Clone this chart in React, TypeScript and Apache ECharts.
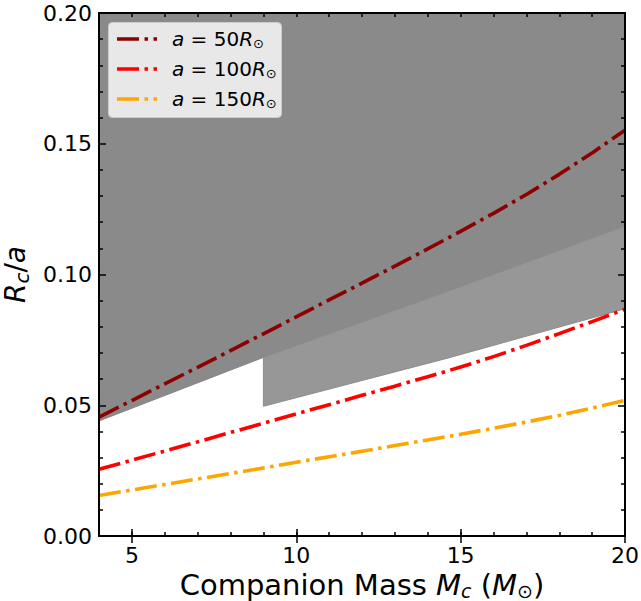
import React, { useEffect, useRef } from "react";
import * as echarts from "echarts";

// Companion mass grid (M_sun) and the R_c / a curves for three separations
const massGrid = [4, 5, 6, 7, 8, 9, 10, 11, 12, 13, 14, 15, 16, 17, 18, 19, 20];
const rcA50 = [0.0455, 0.0518, 0.0582, 0.0645, 0.0709, 0.0773, 0.0838, 0.0903, 0.0967, 0.1032, 0.1098, 0.1165, 0.1234, 0.1306, 0.1383, 0.1465, 0.1552];
const rcA100 = [0.0255, 0.029, 0.0325, 0.036, 0.0396, 0.0431, 0.0467, 0.0502, 0.0538, 0.0573, 0.0609, 0.0646, 0.0686, 0.0729, 0.0774, 0.082, 0.0867];
const rcA150 = [0.0155, 0.0176, 0.0197, 0.0218, 0.0239, 0.026, 0.0282, 0.0303, 0.0324, 0.0346, 0.0367, 0.0389, 0.0412, 0.0436, 0.0461, 0.0489, 0.0519];
const separations = ["50", "100", "150"];
const curveColors = ["#8b0000", "#ff0000", "#ffa500"];

// Excluded regions: upper band edge across all masses, lower edge of the second band (M >= 9)
const upperEdgeMass = [4, 9, 14.6, 20];
const upperEdgeRatio = [0.044, 0.0683, 0.0935, 0.1185];
const lowerEdgeMass = [9, 14.6, 20];
const lowerEdgeRatio = [0.0496, 0.068, 0.0869];

const xMin = 4;
const xMax = 20;
const yMin = 0;
const yMax = 0.2;
const xMajorTicks = [5, 10, 15, 20];

const FONT = "DejaVu Sans";
const DASH_DOT = [22, 5.5, 3.5, 5.5];
const CURVE_WIDTH = 3.6;

function polygonSeries(points: number[][], fill: string, stroke: string, z: number) {
  return {
    type: "custom",
    coordinateSystem: "cartesian2d",
    xAxisIndex: 0,
    yAxisIndex: 0,
    data: points,
    encode: { x: 0, y: 1 },
    clip: true,
    silent: true,
    z,
    renderItem: (params: any, api: any) => {
      if (params.dataIndex !== 0) return null;
      const pts = points.map((p) => api.coord(p));
      return {
        type: "polygon",
        shape: { points: pts },
        style: { fill, stroke, lineWidth: 1 },
      };
    },
  };
}

function buildOption() {
  const upperEdge = upperEdgeMass.map((m, i) => [m, upperEdgeRatio[i]]);
  const darkRegion = [...upperEdge, [xMax, yMax], [xMin, yMax]];
  const lightRegion = [
    ...lowerEdgeMass.map((m, i) => [m, lowerEdgeRatio[i]]),
    ...upperEdge.filter((p) => p[0] >= lowerEdgeMass[0]).reverse(),
  ];

  const curves = [rcA50, rcA100, rcA150].map((arr, k) => ({
    type: "line",
    name: `a = ${separations[k]}R⊙`,
    data: massGrid.map((m, i) => [m, arr[i]]),
    showSymbol: false,
    symbol: "none",
    clip: true,
    z: 5,
    lineStyle: { color: curveColors[k], width: CURVE_WIDTH, type: DASH_DOT, cap: "butt", join: "round" },
  }));

  const baseX = {
    type: "value",
    min: xMin,
    max: xMax,
    z: 10,
    splitLine: { show: false },
  };
  const tickLine = { lineStyle: { color: "#000", width: 1.5 } };

  const xAxis = [
    {
      ...baseX,
      position: "bottom",
      interval: 1,
      axisLine: { show: true, onZero: false, lineStyle: { color: "#000", width: 2 } },
      axisTick: { show: true, inside: true, length: 4, ...tickLine },
      axisLabel: {
        show: true,
        customValues: xMajorTicks,
        margin: 8,
        fontSize: 22,
        fontFamily: FONT,
        color: "#000",
      },
      name: "Companion Mass {it|M}{subIt|c} ({it|M}{sub|⊙})",
      nameLocation: "middle",
      nameGap: 22,
      nameTextStyle: {
        fontSize: 29,
        fontFamily: FONT,
        color: "#000",
        rich: {
          it: { fontSize: 29, fontFamily: FONT, fontStyle: "italic", color: "#000" },
          subIt: { fontSize: 19, fontFamily: FONT, fontStyle: "italic", color: "#000", padding: [11, 0, 0, 0] },
          sub: { fontSize: 19, fontFamily: FONT, color: "#000", padding: [11, 0, 0, 0] },
        },
      },
    },
    {
      ...baseX,
      position: "bottom",
      axisLine: { show: false },
      axisTick: { show: true, inside: true, length: 7, customValues: xMajorTicks, ...tickLine },
      axisLabel: { show: false },
    },
    {
      ...baseX,
      position: "top",
      interval: 1,
      axisLine: { show: true, onZero: false, lineStyle: { color: "#000", width: 2 } },
      axisTick: { show: true, inside: true, length: 4, ...tickLine },
      axisLabel: { show: false },
    },
    {
      ...baseX,
      position: "top",
      axisLine: { show: false },
      axisTick: { show: true, inside: true, length: 7, customValues: xMajorTicks, ...tickLine },
      axisLabel: { show: false },
    },
  ];

  const baseY = {
    type: "value",
    min: yMin,
    max: yMax,
    interval: 0.05,
    z: 10,
    splitLine: { show: false },
    axisLine: { show: true, onZero: false, lineStyle: { color: "#000", width: 2 } },
    axisTick: { show: true, inside: true, length: 7, ...tickLine },
    minorTick: { show: true, splitNumber: 5, length: 4, lineStyle: { color: "#000", width: 1.5 } },
  };

  const yAxis = [
    {
      ...baseY,
      position: "left",
      axisLabel: {
        show: true,
        margin: 7,
        fontSize: 22,
        fontFamily: FONT,
        color: "#000",
        formatter: (v: number) => v.toFixed(2),
      },
      name: "{it|R}{subIt|c}/{it|a}",
      nameLocation: "middle",
      nameRotate: 90,
      nameGap: 54,
      nameTextStyle: {
        fontSize: 28,
        fontFamily: FONT,
        color: "#000",
        rich: {
          it: { fontSize: 28, fontFamily: FONT, fontStyle: "italic", color: "#000" },
          subIt: { fontSize: 20, fontFamily: FONT, fontStyle: "italic", color: "#000", padding: [14, 0, 0, 0] },
        },
      },
    },
    {
      ...baseY,
      position: "right",
      axisLabel: { show: false },
    },
  ];

  // Legend box drawn with graphic elements so the dash-dot samples match the curves
  const legendX = 108.5;
  const legendY = 22.5;
  const rowY = [39, 69, 99];
  const legendChildren: any[] = [
    {
      type: "rect",
      z: 100,
      shape: { x: legendX, y: legendY, width: 173, height: 95, r: 4 },
      style: { fill: "rgba(255,255,255,0.8)", stroke: "#cccccc", lineWidth: 1 },
    },
  ];
  separations.forEach((s, k) => {
    legendChildren.push({
      type: "line",
      z: 101,
      shape: { x1: 117, y1: rowY[k], x2: 157, y2: rowY[k] },
      style: { stroke: curveColors[k], lineWidth: CURVE_WIDTH, lineDash: DASH_DOT, lineCap: "butt" },
    });
    legendChildren.push({
      type: "text",
      z: 101,
      x: 172,
      y: rowY[k],
      style: {
        text: `{it|a} = ${s}{it|R}{sub|⊙}`,
        fontSize: 20,
        fontFamily: FONT,
        fill: "#000",
        verticalAlign: "middle",
        align: "left",
        rich: {
          it: { fontSize: 20, fontFamily: FONT, fontStyle: "italic", fill: "#000" },
          sub: { fontSize: 13, fontFamily: FONT, fill: "#000", padding: [9, 0, 0, 0] },
        },
      },
    });
  });

  return {
    animation: false,
    backgroundColor: "#ffffff",
    grid: { left: 99, right: 16, top: 13, bottom: 65, containLabel: false, outerBoundsMode: "none" },
    xAxis,
    yAxis,
    series: [
      polygonSeries(darkRegion, "#8a8a8a", "#858585", 1),
      polygonSeries(lightRegion, "#979797", "#8c8c8c", 2),
      ...curves,
    ],
    graphic: legendChildren,
  };
}

export default function App() {
  const ref = useRef<HTMLDivElement>(null);
  useEffect(() => {
    if (!ref.current) return;
    const chart = echarts.init(ref.current, undefined, { renderer: "svg" });
    chart.setOption(buildOption() as any);
    return () => chart.dispose();
  }, []);
  return (
    <div
      ref={ref}
      style={{ position: "fixed", left: 0, top: 0, width: 641, height: 601, background: "#fff" }}
    />
  );
}
